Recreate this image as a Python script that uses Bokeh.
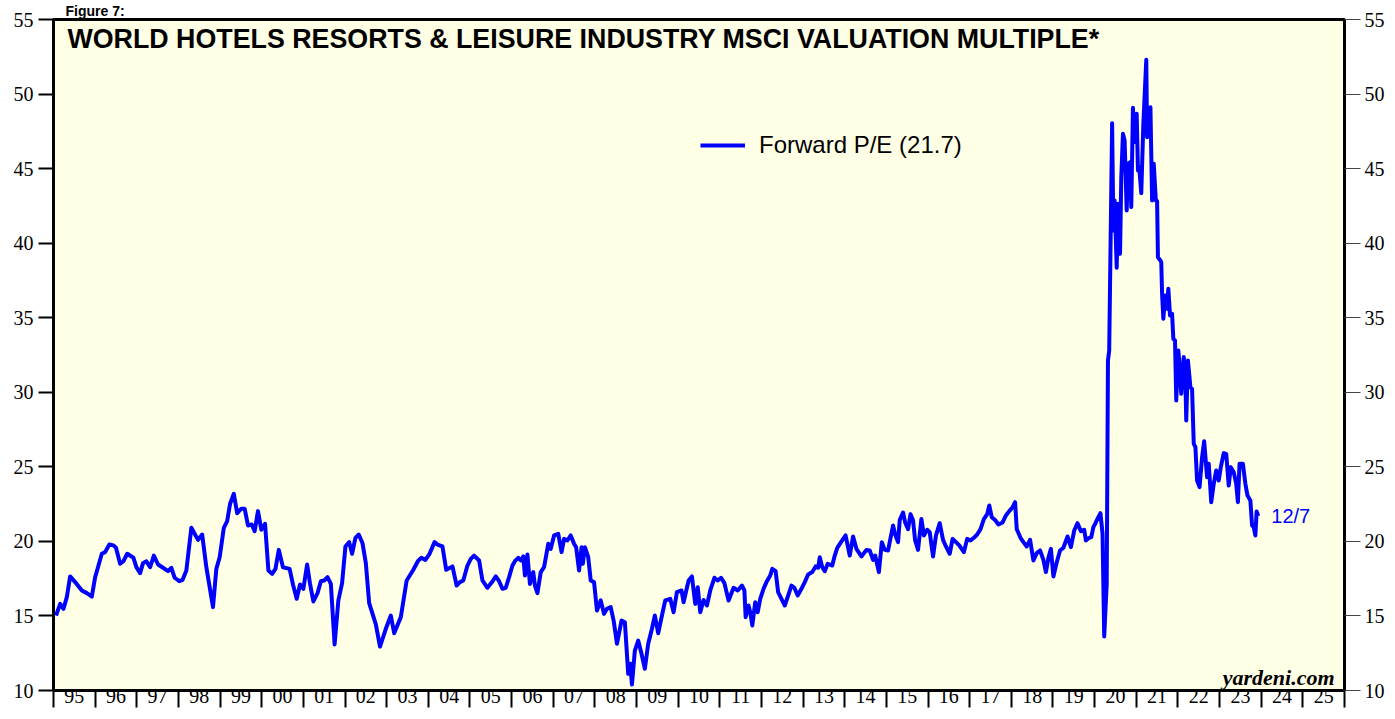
from bokeh.plotting import figure
from bokeh.models import (Range1d, LinearAxis, FixedTicker, Label, Legend, LegendItem, Title)
from bokeh.embed import file_html
from bokeh.resources import INLINE

# ---------------- data ----------------
dates = [
    1995.06, 1995.16, 1995.24, 1995.32, 1995.40, 1995.52, 1995.68, 1995.80, 1995.92, 1996.00,
    1996.16, 1996.24, 1996.34, 1996.44, 1996.50, 1996.60, 1996.68, 1996.77, 1996.92, 1996.99,
    1997.08, 1997.15, 1997.23, 1997.32, 1997.41, 1997.51, 1997.63, 1997.75, 1997.83, 1997.91,
    1998.02, 1998.10, 1998.19, 1998.31, 1998.47, 1998.57, 1998.67, 1998.83, 1998.91, 1998.99,
    1999.09, 1999.17, 1999.24, 1999.33, 1999.41, 1999.51, 1999.59, 1999.67, 1999.76, 1999.83,
    1999.91, 1999.99, 2000.08, 2000.16, 2000.25, 2000.33, 2000.41, 2000.51, 2000.67, 2000.75,
    2000.84, 2000.92, 2001.00, 2001.09, 2001.16, 2001.24, 2001.34, 2001.42, 2001.50, 2001.58,
    2001.66, 2001.75, 2001.84, 2001.93, 2002.01, 2002.10, 2002.17, 2002.25, 2002.33, 2002.42,
    2002.50, 2002.58, 2002.74, 2002.84, 2002.98, 2003.10, 2003.18, 2003.34, 2003.48, 2003.63,
    2003.75, 2003.83, 2003.93, 2004.03, 2004.15, 2004.22, 2004.34, 2004.43, 2004.58, 2004.68,
    2004.76, 2004.84, 2004.94, 2005.02, 2005.10, 2005.22, 2005.30, 2005.42, 2005.53, 2005.62,
    2005.70, 2005.78, 2005.86, 2005.94, 2006.02, 2006.08, 2006.16, 2006.22, 2006.28, 2006.32,
    2006.38, 2006.44, 2006.52, 2006.56, 2006.62, 2006.70, 2006.78, 2006.83, 2006.88, 2006.94,
    2007.02, 2007.12, 2007.20, 2007.26, 2007.34, 2007.42, 2007.50, 2007.55, 2007.62, 2007.68,
    2007.71, 2007.76, 2007.84, 2007.90, 2007.98, 2008.05, 2008.14, 2008.22, 2008.29, 2008.38,
    2008.45, 2008.53, 2008.64, 2008.72, 2008.80, 2008.85, 2008.89, 2008.96, 2009.04, 2009.12,
    2009.20, 2009.28, 2009.37, 2009.44, 2009.52, 2009.61, 2009.69, 2009.81, 2009.89, 2009.97,
    2010.08, 2010.13, 2010.25, 2010.33, 2010.41, 2010.47, 2010.53, 2010.61, 2010.69, 2010.77,
    2010.87, 2010.95, 2011.03, 2011.11, 2011.21, 2011.33, 2011.43, 2011.53, 2011.59, 2011.62,
    2011.69, 2011.73, 2011.78, 2011.85, 2011.91, 2011.97, 2012.05, 2012.12, 2012.21, 2012.26,
    2012.34, 2012.40, 2012.48, 2012.56, 2012.64, 2012.72, 2012.79, 2012.87, 2012.96, 2013.04,
    2013.12, 2013.22, 2013.30, 2013.36, 2013.40, 2013.46, 2013.52, 2013.59, 2013.70, 2013.76,
    2013.82, 2013.91, 2014.02, 2014.12, 2014.20, 2014.28, 2014.40, 2014.52, 2014.60, 2014.68,
    2014.73, 2014.82, 2014.89, 2014.96, 2015.04, 2015.10, 2015.16, 2015.21, 2015.28, 2015.32,
    2015.40, 2015.45, 2015.52, 2015.58, 2015.64, 2015.69, 2015.76, 2015.84, 2015.90, 2015.98,
    2016.04, 2016.12, 2016.19, 2016.28, 2016.36, 2016.43, 2016.52, 2016.59, 2016.67, 2016.75,
    2016.86, 2016.94, 2017.02, 2017.10, 2017.18, 2017.26, 2017.34, 2017.42, 2017.47, 2017.53,
    2017.61, 2017.69, 2017.79, 2017.87, 2017.95, 2018.03, 2018.09, 2018.13, 2018.22, 2018.29,
    2018.37, 2018.45, 2018.53, 2018.61, 2018.69, 2018.77, 2018.83, 2018.89, 2018.95, 2019.01,
    2019.09, 2019.17, 2019.25, 2019.35, 2019.43, 2019.51, 2019.59, 2019.67, 2019.75, 2019.79,
    2019.87, 2019.92, 2019.97, 2020.02, 2020.08, 2020.14, 2020.19, 2020.23, 2020.29, 2020.32,
    2020.35, 2020.42, 2020.45, 2020.48, 2020.53, 2020.56, 2020.61, 2020.64, 2020.68, 2020.72,
    2020.77, 2020.80, 2020.85, 2020.88, 2020.92, 2020.96, 2021.01, 2021.04, 2021.07, 2021.12,
    2021.17, 2021.24, 2021.26, 2021.30, 2021.34, 2021.38, 2021.42, 2021.47, 2021.50, 2021.52,
    2021.58, 2021.60, 2021.62, 2021.65, 2021.69, 2021.73, 2021.77, 2021.81, 2021.86, 2021.89,
    2021.93, 2021.96, 2022.01, 2022.05, 2022.08, 2022.14, 2022.18, 2022.20, 2022.24, 2022.30,
    2022.34, 2022.38, 2022.42, 2022.46, 2022.52, 2022.58, 2022.63, 2022.70, 2022.74, 2022.80,
    2022.86, 2022.92, 2022.98, 2023.03, 2023.10, 2023.16, 2023.22, 2023.27, 2023.34, 2023.40,
    2023.44, 2023.48, 2023.56, 2023.62, 2023.67, 2023.74, 2023.78, 2023.82, 2023.86, 2023.89,
    2023.93,
]
forward_pe = [
    15.03, 15.81, 15.48, 16.26, 17.65, 17.27, 16.71, 16.53, 16.30, 17.60,
    19.17, 19.28, 19.79, 19.73, 19.57, 18.50, 18.67, 19.17, 18.90, 18.27,
    17.87, 18.54, 18.67, 18.27, 19.05, 18.45, 18.23, 18.00, 18.23, 17.56,
    17.33, 17.42, 18.05, 20.91, 20.10, 20.46, 18.27, 15.59, 18.16, 18.94,
    20.91, 21.36, 22.52, 23.19, 21.89, 22.19, 22.19, 21.07, 21.13, 20.69,
    22.03, 20.78, 21.18, 18.05, 17.82, 18.16, 19.43, 18.27, 18.16, 17.11,
    16.15, 17.11, 16.82, 18.45, 17.15, 15.97, 16.53, 17.33, 17.38, 17.60,
    17.15, 13.09, 16.04, 17.20, 19.66, 19.95, 19.17, 20.24, 20.46, 19.88,
    18.54, 15.86, 14.43, 12.95, 14.14, 15.03, 13.84, 14.92, 17.38, 18.05,
    18.67, 18.90, 18.76, 19.17, 19.95, 19.79, 19.66, 18.09, 18.32, 17.04,
    17.27, 17.38, 18.38, 18.83, 19.05, 18.72, 17.38, 16.89, 17.27, 17.65,
    17.33, 16.82, 16.89, 17.60, 18.38, 18.67, 18.90, 18.72, 18.99, 17.71,
    19.12, 17.15, 17.94, 17.04, 16.53, 17.94, 18.27, 19.05, 19.84, 19.50,
    20.40, 20.51, 19.28, 20.17, 20.06, 20.40, 19.84, 19.61, 18.05, 19.61,
    18.50, 19.61, 18.94, 17.38, 17.27, 15.37, 16.04, 15.14, 15.48, 15.59,
    14.69, 13.13, 14.69, 14.58, 11.12, 11.79, 10.40, 12.68, 13.35, 12.46,
    11.46, 13.13, 14.14, 15.03, 13.84, 15.03, 16.04, 16.15, 15.25, 16.60,
    16.71, 15.92, 17.38, 17.65, 15.81, 16.93, 15.25, 16.07, 15.70, 16.71,
    17.56, 17.38, 17.56, 17.20, 16.04, 16.89, 16.71, 17.04, 16.71, 14.92,
    15.70, 15.25, 14.36, 15.92, 15.25, 16.15, 16.82, 17.27, 17.71, 18.16,
    18.00, 16.60, 16.15, 15.70, 16.37, 17.04, 16.89, 16.37, 16.82, 17.27,
    17.78, 17.94, 18.32, 18.23, 18.94, 18.27, 18.00, 18.50, 18.38, 19.05,
    19.57, 19.95, 20.40, 19.05, 20.33, 19.50, 18.99, 19.43, 19.39, 18.76,
    19.05, 17.94, 19.95, 19.43, 19.39, 20.24, 21.07, 20.46, 19.95, 21.43,
    21.94, 21.27, 20.82, 21.83, 21.40, 20.06, 19.43, 21.50, 20.40, 20.78,
    20.62, 18.99, 20.40, 21.22, 20.10, 19.66, 19.17, 20.17, 19.95, 19.73,
    19.28, 20.17, 20.06, 20.24, 20.46, 20.82, 21.50, 21.83, 22.41, 21.62,
    21.43, 21.13, 21.27, 21.74, 22.03, 22.29, 22.63, 20.82, 20.24, 19.95,
    19.66, 20.10, 18.72, 19.21, 19.39, 18.76, 17.94, 18.90, 19.50, 17.65,
    18.60, 19.39, 19.57, 20.33, 19.61, 20.73, 21.22, 20.69, 20.78, 20.06,
    20.24, 20.29, 20.96, 21.22, 21.58, 21.89, 20.51, 13.62, 17.15, 32.13,
    32.80, 48.05, 40.85, 42.86, 38.35, 42.64, 39.29, 44.43, 47.34, 46.89,
    42.19, 45.32, 45.43, 42.42, 49.08, 46.78, 48.68, 44.88, 45.10, 43.36,
    48.01, 52.30, 47.11, 47.56, 49.12, 42.86, 45.32, 42.86, 42.82, 39.06,
    38.84, 38.72, 36.60, 34.93, 36.49, 35.60, 36.94, 35.15, 35.26, 33.58,
    33.47, 29.45, 32.80, 31.46, 29.90, 32.36, 30.79, 28.11, 32.13, 30.34,
    30.23, 26.55, 26.32, 24.08, 23.64, 25.65, 26.72, 24.31, 25.21, 22.63,
    23.86, 24.76, 24.08, 24.98, 25.92, 25.87, 23.75, 24.98, 24.64, 23.86,
    22.63, 25.21, 25.21, 23.86, 23.08, 22.74, 21.07, 20.95, 20.40, 22.00,
    21.70,
]
y_ticks = [10, 15, 20, 25, 30, 35, 40, 45, 50, 55]
year_starts = list(range(1995, 2027))
year_labels = ["95", "96", "97", "98", "99", "00", "01", "02", "03", "04", "05", "06",
               "07", "08", "09", "10", "11", "12", "13", "14", "15", "16", "17", "18",
               "19", "20", "21", "22", "23", "24", "25"]
figure_text = "Figure 7:"
title_text = "WORLD HOTELS RESORTS & LEISURE INDUSTRY MSCI VALUATION MULTIPLE*"
legend_text = "Forward P/E (21.7)"
last_label = "12/7"
source_text = "yardeni.com"

# ---------------- figure ----------------
SERIF = "Liberation Serif"
SANS = "Liberation Sans"

p = figure(width=1387, height=711, x_range=Range1d(1995, 2026), y_range=Range1d(10, 55),
           output_backend="svg", toolbar_location=None,
           min_border_left=53, min_border_right=40, min_border_top=19, min_border_bottom=21,
           background_fill_color="#FFFFE6", border_fill_color="white",
           outline_line_color="black", outline_line_width=3)
p.grid.visible = False

# caption above the frame
p.title = Title(text=figure_text, align="left", offset=12, standoff=1,
                text_font=SANS, text_font_style="bold", text_font_size="14px",
                text_color="black")

# left axis
ya = p.yaxis[0]
ya.ticker = FixedTicker(ticks=y_ticks)
ya.major_tick_out = 15
ya.major_tick_in = 0
ya.major_tick_line_width = 2
ya.major_tick_line_color = "black"
ya.minor_tick_line_color = None
ya.axis_line_width = 3
ya.major_label_standoff = 5
ya.major_label_text_font = SERIF
ya.major_label_text_font_size = "20px"
ya.major_label_text_color = "black"

# right axis
ra = LinearAxis(ticker=FixedTicker(ticks=y_ticks))
ra.major_tick_out = 16
ra.major_tick_in = 0
ra.major_tick_line_width = 1
ra.major_tick_line_color = "#444444"
ra.minor_tick_line_color = None
ra.axis_line_width = 3
ra.major_label_standoff = 4
ra.major_label_text_font = SERIF
ra.major_label_text_font_size = "20px"
ra.major_label_text_color = "black"
p.add_layout(ra, "right")

# bottom axis: labels at mid-year (major), year boundary ticks (minor, drawn outward)
mid_years = [y + 0.5 for y in year_starts[:-1]]
xa = p.xaxis[0]
xa.ticker = FixedTicker(ticks=mid_years, minor_ticks=year_starts)
xa.major_label_overrides = {m: lab for m, lab in zip(mid_years, year_labels)}
xa.major_tick_out = 0
xa.major_tick_in = 0
xa.major_tick_line_color = None
xa.minor_tick_out = 0
xa.minor_tick_in = -17
xa.minor_tick_line_width = 2
xa.minor_tick_line_color = "black"
xa.axis_line_width = 3
xa.major_label_standoff = -2
xa.major_label_text_font = SERIF
xa.major_label_text_font_size = "20px"
xa.major_label_text_color = "black"

# data line
r = p.line(dates, forward_pe, line_color="#0000FF", line_width=4, line_join="round")

legend = Legend(items=[LegendItem(label=legend_text, renderers=[r])],
                location=(647, 531), padding=0, margin=0, spacing=0,
                glyph_width=45, glyph_height=24, label_standoff=14,
                label_text_font=SANS, label_text_font_size="24px", label_text_color="black",
                border_line_alpha=0, background_fill_alpha=0)
p.add_layout(legend, "center")

# title in plot
p.add_layout(Label(x=1995.335, y=53.70, text=title_text, text_font=SANS,
                   text_font_style="bold", text_font_size="26.8px", text_color="black",
                   text_baseline="middle", text_align="left"))

# last date label
p.add_layout(Label(x=dates[-1], y=forward_pe[-1], text=last_label, x_offset=13,
                   text_font=SANS, text_font_size="20px", text_color="#0000FF",
                   text_baseline="middle", text_align="left"))

# source
p.add_layout(Label(x=2025.76, y=10.9, text=source_text, text_font=SERIF,
                   text_font_style="bold italic", text_font_size="22px", text_color="black",
                   text_baseline="middle", text_align="right"))

open("out.html", "w").write(file_html(p, INLINE))
